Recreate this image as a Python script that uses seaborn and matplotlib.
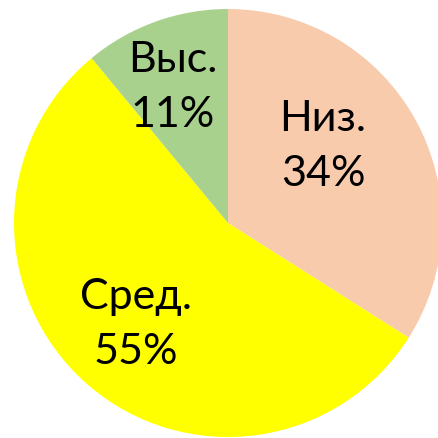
import matplotlib
matplotlib.use("Agg")
import matplotlib.pyplot as plt
import seaborn as sns

# data
categories = ["Низ.", "Сред.", "Выс."]
values = [34, 55, 11]
colors = ["#F8CBAD", "#FFFF00", "#A9D18E"]
# label centers (in pie radius units)
label_pos = [(0.444, 0.364), (-0.43, -0.47), (-0.26, 0.64)]

sns.set_theme(style="white")
plt.rcParams['font.family'] = ['Lato', 'DejaVu Sans']

fig = plt.figure(figsize=(4.39, 4.39), dpi=100)
ax = fig.add_axes([0.0319, 0.0022, 0.975, 0.975])

labels = [f"{c}\n{v}%" for c, v in zip(categories, values)]
wedges, texts = ax.pie(values, colors=colors, startangle=90, counterclock=False,
                       labels=labels, labeldistance=0.5,
                       wedgeprops=dict(linewidth=0),
                       textprops=dict(fontsize=31, color="black", ha="center",
                                      va="center", linespacing=1.55))
for t, (x, y) in zip(texts, label_pos):
    t.set_position((x, y))
    t.set_ha("center")
    t.set_va("center")

ax.set_xlim(-1, 1)
ax.set_ylim(-1, 1)
ax.set_aspect("equal")
ax.axis("off")

fig.savefig("out.png", dpi=100)
